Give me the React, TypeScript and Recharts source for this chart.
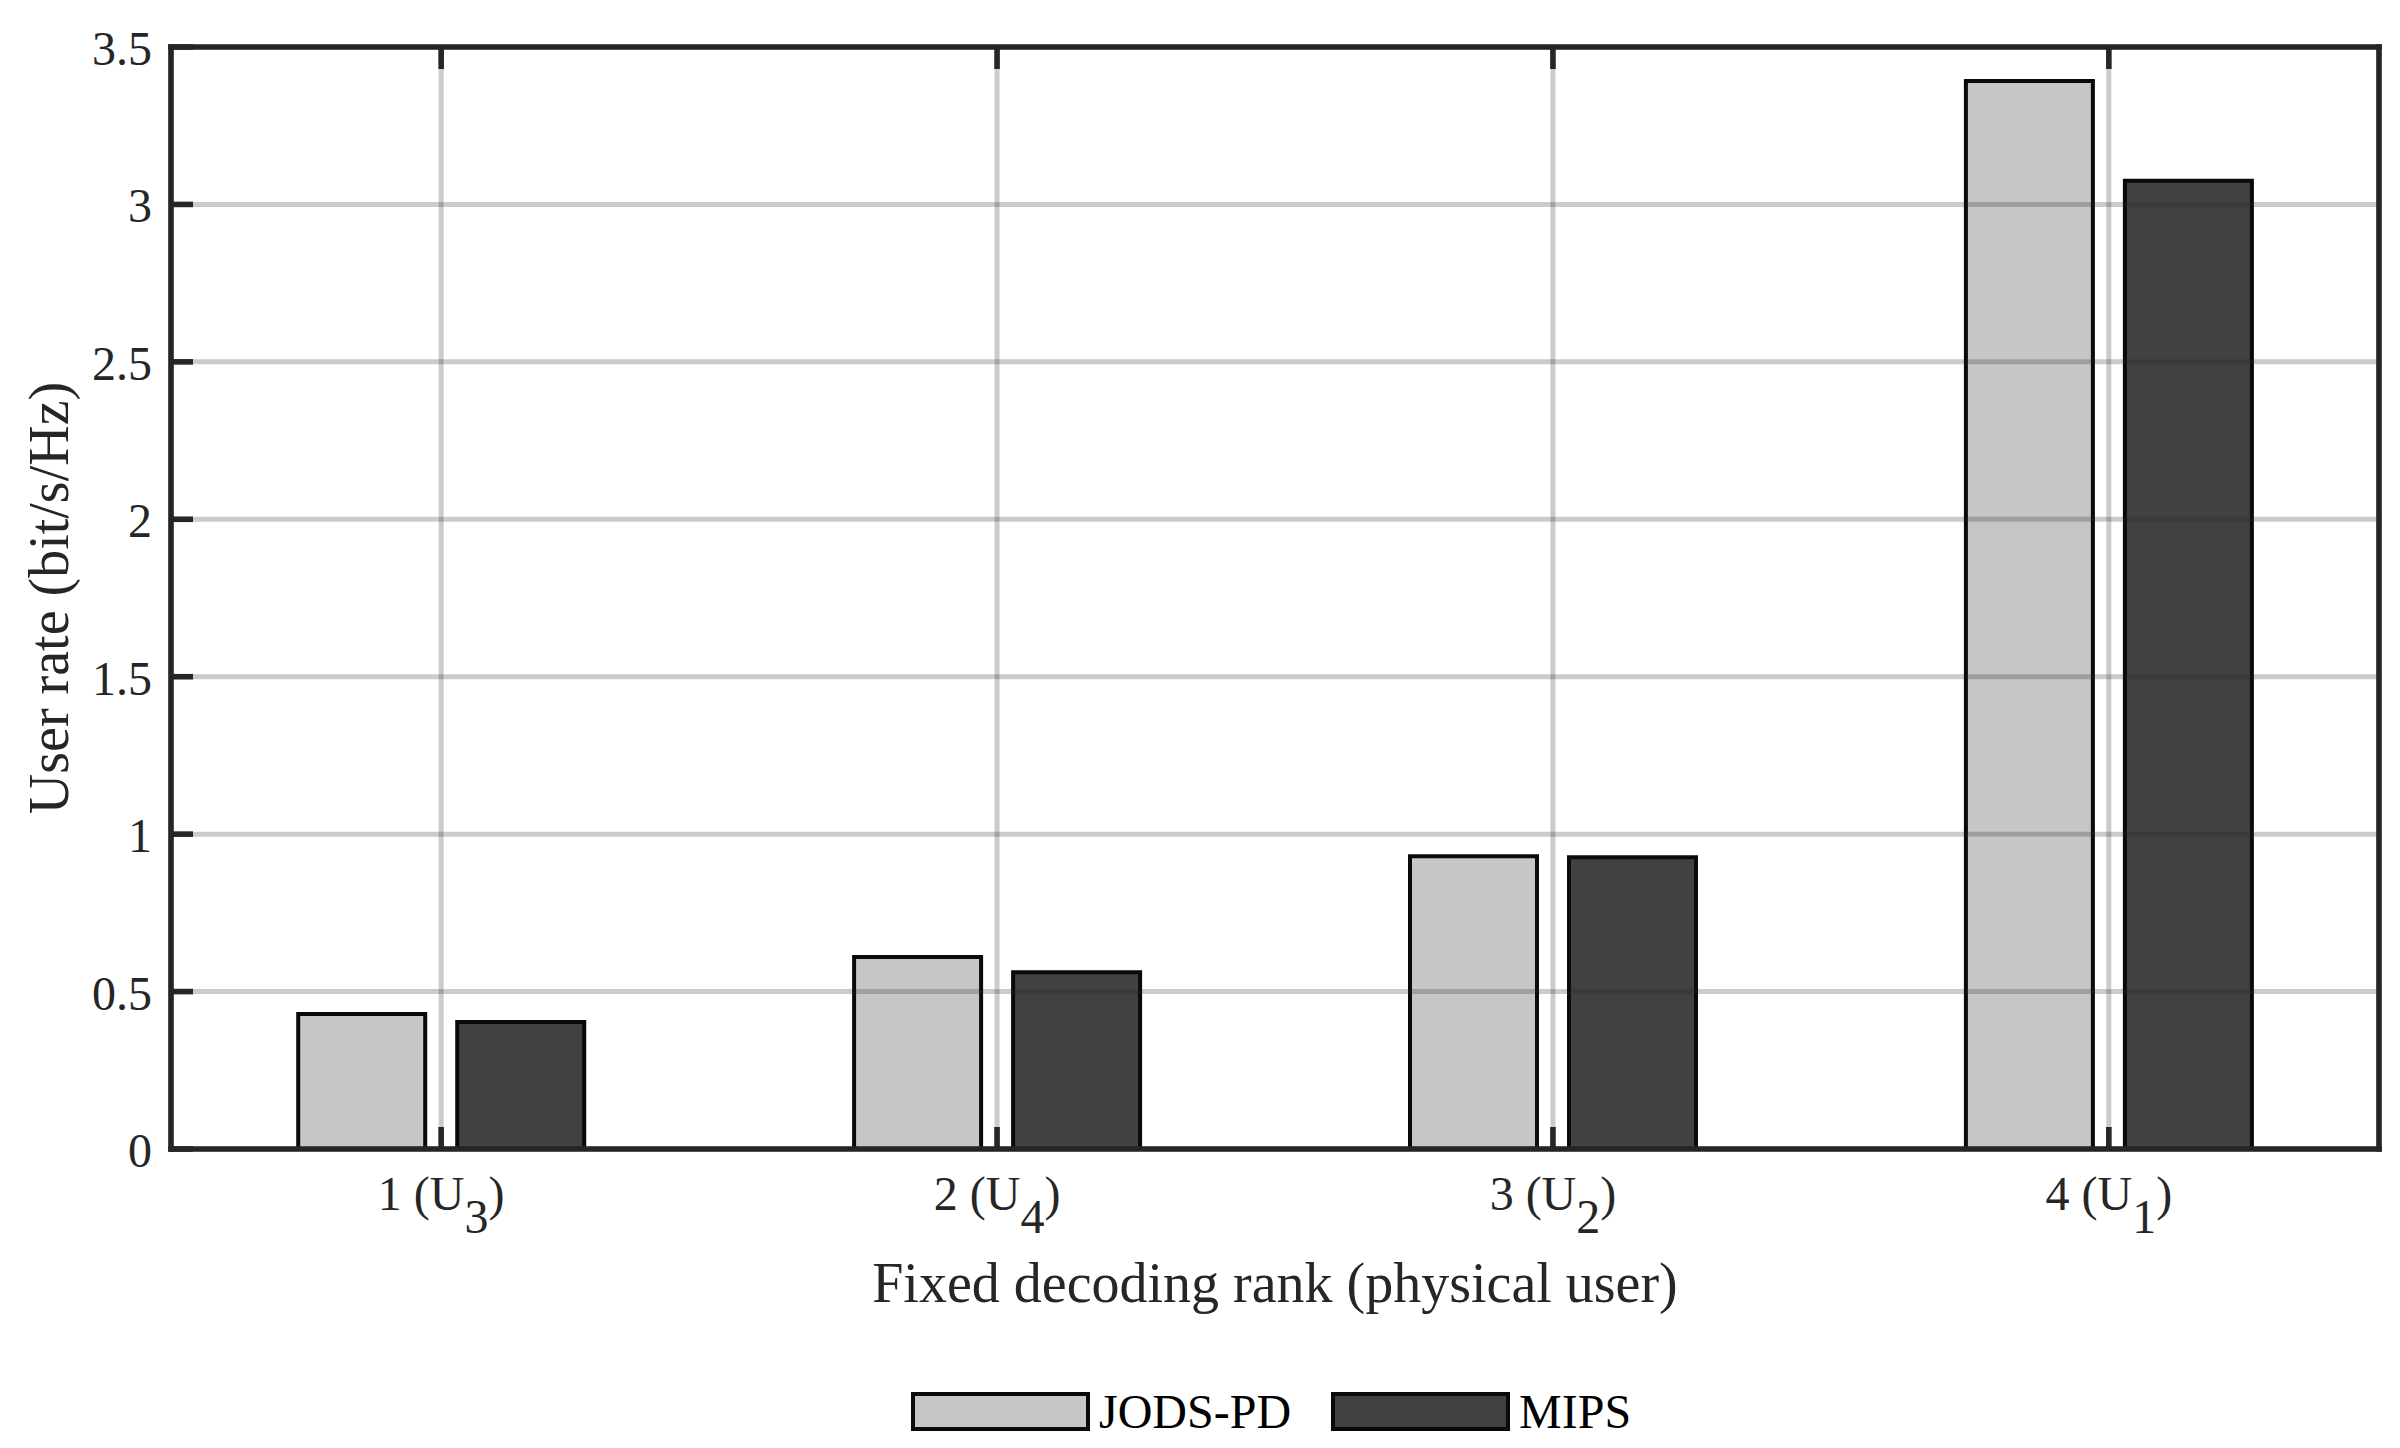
import React from 'react';
import { BarChart, Bar, XAxis, YAxis, CartesianGrid, Legend, Label } from 'recharts';

// decoding rank on the x axis, physical user shown as subscript
const ranks = [1, 2, 3, 4];
const users = ['3', '4', '2', '1'];
const jodsPd = [0.429, 0.61, 0.93, 3.392];
const mips = [0.403, 0.561, 0.927, 3.075];
const seriesNames = ['JODS-PD', 'MIPS'];
const seriesColors = ['#c6c6c6', '#404241'];
const yTicks = [0, 0.5, 1, 1.5, 2, 2.5, 3, 3.5];

const data = ranks.map((r, i) => ({ rank: r, jods: jodsPd[i], mips: mips[i] }));

const FONT = '"Liberation Serif", "Times New Roman", serif';
const INK = '#262626';
const TICK_LEN = 22;
const FRAME = { stroke: INK, strokeWidth: 5.6, strokeLinecap: 'square' as const };

const BottomTick = ({ x, y, payload }: any) => {
  const idx = ranks.indexOf(payload.value);
  return (
    <g>
      <line x1={x} x2={x} y1={y} y2={y - TICK_LEN} stroke={INK} strokeWidth={5.6} />
      <text x={x} y={y + 61} textAnchor="middle" fontSize={48} fontFamily={FONT} fill={INK}>
        {payload.value} (U<tspan dy={23}>{users[idx]}</tspan>
        <tspan dy={-23}>)</tspan>
      </text>
    </g>
  );
};

const TopTick = ({ x, y }: any) => (
  <line x1={x} x2={x} y1={y} y2={y + TICK_LEN} stroke={INK} strokeWidth={5.6} />
);

const LeftTick = ({ x, y, payload }: any) => (
  <g>
    <line x1={x} x2={x + TICK_LEN} y1={y} y2={y} stroke={INK} strokeWidth={5.6} />
    <text x={x - 19} y={y + 18} textAnchor="end" fontSize={48} fontFamily={FONT} fill={INK}>
      {payload.value}
    </text>
  </g>
);

const RightTick = ({ x, y }: any) => (
  <line x1={x} x2={x - TICK_LEN} y1={y} y2={y} stroke={INK} strokeWidth={5.6} />
);

const XTitle = ({ viewBox }: any) => (
  <text
    x={viewBox.x + viewBox.width / 2}
    y={viewBox.y + 153}
    textAnchor="middle"
    fontSize={56}
    fontFamily={FONT}
    fill={INK}
  >
    Fixed decoding rank (physical user)
  </text>
);

const YTitle = ({ viewBox }: any) => {
  const cx = viewBox.x + 60;
  const cy = viewBox.y + viewBox.height / 2;
  return (
    <text
      x={cx}
      y={cy}
      transform={`rotate(-90, ${cx}, ${cy})`}
      textAnchor="middle"
      fontSize={56}
      fontFamily={FONT}
      fill={INK}
    >
      User rate (bit/s/Hz)
    </text>
  );
};

const LegendContent = () => (
  <div style={{ display: 'flex', alignItems: 'center', fontFamily: FONT, fontSize: 48, color: '#000' }}>
    {seriesNames.map((name, i) => (
      <React.Fragment key={name}>
        <div
          style={{
            width: 171,
            height: 31,
            border: '4px solid #0a0a0a',
            background: seriesColors[i],
          }}
        />
        <span style={{ marginLeft: 9, marginRight: i === 0 ? 40 : 0 }}>{name}</span>
      </React.Fragment>
    ))}
  </div>
);

export default function App() {
  return (
    <BarChart
      width={2384}
      height={1432}
      data={data}
      margin={{ top: 38, right: 12, bottom: 91, left: 0 }}
      barGap={32}
    >
      <XAxis
        dataKey="rank"
        type="number"
        domain={[0.514, 4.486]}
        ticks={ranks}
        height={200}
        tickSize={0}
        tickMargin={0}
        tickLine={false}
        axisLine={FRAME}
        tick={<BottomTick />}
        interval={0}
      >
        <Label content={<XTitle />} />
      </XAxis>
      <XAxis
        xAxisId="top"
        dataKey="rank"
        type="number"
        orientation="top"
        domain={[0.514, 4.486]}
        ticks={ranks}
        height={1}
        tickSize={0}
        tickMargin={0}
        tickLine={false}
        axisLine={FRAME}
        tick={<TopTick />}
        interval={0}
      />
      <YAxis
        type="number"
        domain={[0, 3.5]}
        ticks={yTicks}
        width={163}
        tickSize={0}
        tickMargin={0}
        tickLine={false}
        axisLine={FRAME}
        tick={<LeftTick />}
        interval={0}
      >
        <Label content={<YTitle />} />
      </YAxis>
      <YAxis
        yAxisId="right"
        orientation="right"
        type="number"
        domain={[0, 3.5]}
        ticks={yTicks}
        width={1}
        tickSize={0}
        tickMargin={0}
        tickLine={false}
        axisLine={FRAME}
        tick={<RightTick />}
        interval={0}
      />
      <Bar
        dataKey="jods"
        name={seriesNames[0]}
        fill={seriesColors[0]}
        stroke="#0a0a0a"
        strokeWidth={4}
        barSize={127}
        isAnimationActive={false}
      />
      <Bar
        dataKey="mips"
        name={seriesNames[1]}
        fill={seriesColors[1]}
        stroke="#0a0a0a"
        strokeWidth={4}
        barSize={127}
        isAnimationActive={false}
      />
      <CartesianGrid stroke={INK} strokeOpacity={0.24} strokeWidth={5} zIndex={600} />
      <Legend
        layout="horizontal"
        verticalAlign="middle"
        align="center"
        wrapperStyle={{ top: 1376, left: 903, width: 'auto' }}
        content={<LegendContent />}
      />
    </BarChart>
  );
}
